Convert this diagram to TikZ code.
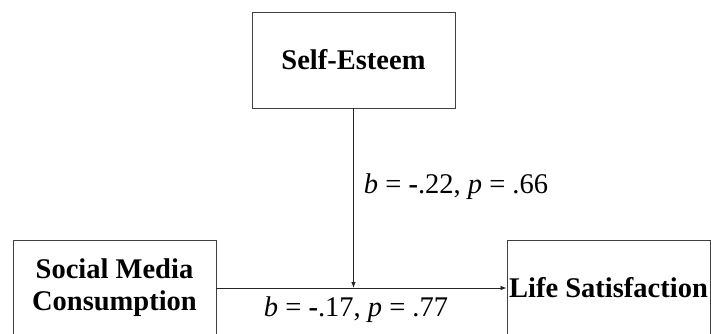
\documentclass[tikz,border=0pt]{standalone}
\usepackage{fontspec}
\setmainfont{Liberation Serif}
\usepackage{tikz}
\usetikzlibrary{arrows.meta, positioning, calc}

\begin{document}
\begin{tikzpicture}[
  x=1pt, y=-1pt,
  var/.style={draw=black!75, line width=0.9pt, minimum width=203pt, minimum height=96pt,
              font=\fontsize{28.5}{32}\selectfont\bfseries, align=center, inner sep=0pt},
  arrow/.style={-{Latex[length=6pt, width=4.5pt]}, line width=0.8pt, color=black!85},
  coef/.style={font=\fontsize{28.5}{32}\selectfont, inner sep=0pt}
]
  \clip (0,0) rectangle (711,333);
  \fill[white] (0,0) rectangle (711,333);

  \node[var] (se) at (353.5, 60) {Self-Esteem};
  \node[var] (smc) at (114.5, 288) {Social Media\\Consumption};
  \node[var] (ls) at (608.5, 288) {Life Satisfaction};

  \coordinate (mod) at (se.south |- smc.east);

  \draw[arrow] (smc) -- (ls);
  \draw[arrow] (se) -- (mod);

  \node[coef, anchor=base] (bse) at (456, 193) {\textit{b} = \textbf{-}.22, \textit{p} = .66};
  \node[coef, anchor=base] (bsmc) at (356, 316) {\textit{b} = \textbf{-}.17, \textit{p} = .77};
\end{tikzpicture}
\end{document}
